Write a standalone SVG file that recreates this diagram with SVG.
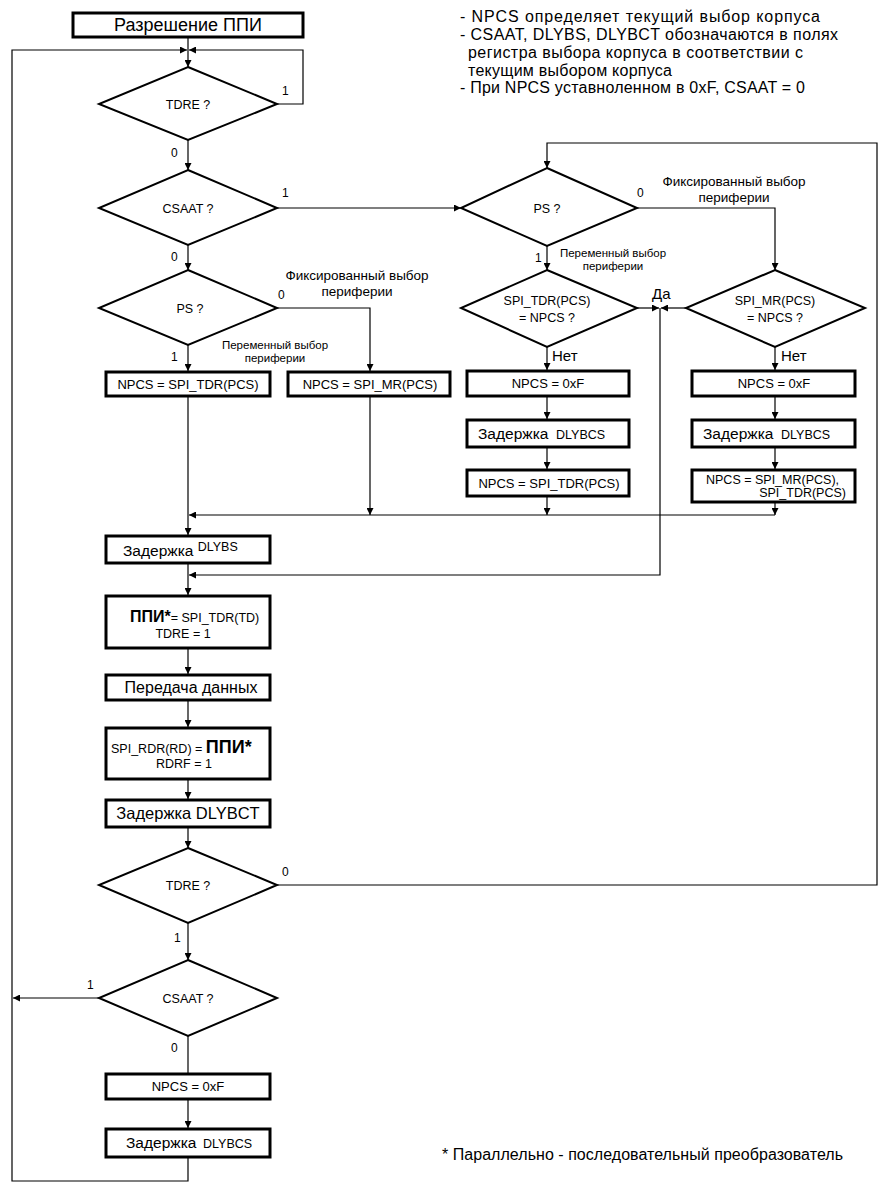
<svg xmlns="http://www.w3.org/2000/svg" width="891" height="1200" viewBox="0 0 891 1200">
<style>
text{font-family:"Liberation Sans",Arial,sans-serif;fill:#000}
.box{fill:#fff;stroke:#000;stroke-width:3}
.dia{fill:#fff;stroke:#000;stroke-width:2}
.c{fill:none;stroke:#000;stroke-width:1.2}
.t{font-size:13px;text-anchor:middle}
.d{font-size:12.5px;text-anchor:middle}
.l{font-size:12px}
.n{font-size:16px}
.s{font-size:11.5px;text-anchor:middle}
.f{font-size:13.5px;text-anchor:middle}
.z{font-size:15.5px}
.zs{font-size:12.5px}
</style>
<defs>
<marker id="a" viewBox="0 0 8 8" refX="8" refY="4" markerWidth="7" markerHeight="7" markerUnits="userSpaceOnUse" orient="auto"><path d="M0,0 L8,4 L0,8 z" fill="#000"/></marker>
</defs>
<rect width="891" height="1200" fill="#fff"/>
<g id="connectors">
<path class="c" d="M188,37 V67" marker-end="url(#a)"/>
<path class="c" d="M277,104 H303 V50 H189" marker-end="url(#a)"/>
<path class="c" d="M188,1157 V1181 H12 V50 H187" marker-end="url(#a)"/>
<path class="c" d="M188,140 V170" marker-end="url(#a)"/>
<path class="c" d="M277,208 H461" marker-end="url(#a)"/>
<path class="c" d="M188,245 V270" marker-end="url(#a)"/>
<path class="c" d="M277,308 H370 V371" marker-end="url(#a)"/>
<path class="c" d="M188,345 V371" marker-end="url(#a)"/>
<path class="c" d="M188,396 V535" marker-end="url(#a)"/>
<path class="c" d="M370,396 V515" marker-end="url(#a)"/>
<path class="c" d="M775,515 H189" marker-end="url(#a)"/>
<path class="c" d="M547,496 V515" marker-end="url(#a)"/>
<path class="c" d="M775,502 V515" marker-end="url(#a)"/>
<path class="c" d="M188,563 V595" marker-end="url(#a)"/>
<path class="c" d="M660,308 V575 H189" marker-end="url(#a)"/>
<path class="c" d="M188,648 V674" marker-end="url(#a)"/>
<path class="c" d="M188,700 V727" marker-end="url(#a)"/>
<path class="c" d="M188,779 V799" marker-end="url(#a)"/>
<path class="c" d="M188,827 V848" marker-end="url(#a)"/>
<path class="c" d="M277,885 H877 V143 H547 V168" marker-end="url(#a)"/>
<path class="c" d="M188,923 V960" marker-end="url(#a)"/>
<path class="c" d="M99,998 H13" marker-end="url(#a)"/>
<path class="c" d="M188,1036 V1073"/>
<path class="c" d="M188,1099 V1128" marker-end="url(#a)"/>
<path class="c" d="M547,246 V270" marker-end="url(#a)"/>
<path class="c" d="M637,208 H775 V270" marker-end="url(#a)"/>
<path class="c" d="M637,308 H659" marker-end="url(#a)"/>
<path class="c" d="M686,308 H661" marker-end="url(#a)"/>
<path class="c" d="M547,347 V370" marker-end="url(#a)"/>
<path class="c" d="M775,347 V370" marker-end="url(#a)"/>
<path class="c" d="M547,396 V419" marker-end="url(#a)"/>
<path class="c" d="M775,396 V419" marker-end="url(#a)"/>
<path class="c" d="M547,447 V469" marker-end="url(#a)"/>
<path class="c" d="M775,447 V469" marker-end="url(#a)"/>
</g>
<g id="labels">
<text class="l" x="282" y="95">1</text>
<text class="l" x="171" y="157">0</text>
<text class="l" x="282" y="197">1</text>
<text class="l" x="171" y="261">0</text>
<text class="l" x="278" y="299">0</text>
<text class="l" x="171" y="361">1</text>
<text class="f" x="357" y="280">Фиксированный выбор</text>
<text class="f" x="357" y="296">периферии</text>
<text class="s" x="275" y="349">Переменный выбор</text>
<text class="s" x="275" y="362">периферии</text>
<text class="l" x="637" y="197">0</text>
<text class="f" x="734" y="186">Фиксированный выбор</text>
<text class="f" x="734" y="202">периферии</text>
<text class="l" x="535" y="262">1</text>
<text class="s" x="613" y="257">Переменный выбор</text>
<text class="s" x="613" y="270">периферии</text>
<text x="652" y="299" style="font-size:15px">Да</text>
<text x="552" y="361" style="font-size:15px">Нет</text>
<text x="781" y="361" style="font-size:15px">Нет</text>
<text class="l" x="282" y="876">0</text>
<text class="l" x="174" y="942">1</text>
<text class="l" x="87" y="989">1</text>
<text class="l" x="171" y="1052">0</text>
</g>
<g id="start"><rect class="box" x="73" y="13" width="230" height="24"/><text x="188" y="31" style="font-size:18px;text-anchor:middle">Разрешение ППИ</text></g>
<g id="tdre1"><polygon class="dia" points="188,67 277,104 188,140 99,104"/><text class="d" x="188" y="109">TDRE ?</text></g>
<g id="csaat1"><polygon class="dia" points="188,170 277,208 188,245 99,208"/><text class="d" x="188" y="213">CSAAT ?</text></g>
<g id="ps1"><polygon class="dia" points="188,270 277,308 188,345 99,308"/><text class="d" x="190" y="313">PS ?</text></g>
<g id="box-tdr"><rect class="box" x="106" y="372" width="164" height="24"/><text class="t" x="188" y="389">NPCS = SPI_TDR(PCS)</text></g>
<g id="box-mr"><rect class="box" x="288" y="372" width="162" height="24"/><text class="t" x="370" y="389">NPCS = SPI_MR(PCS)</text></g>
<g id="dlybs"><rect class="box" x="106" y="536" width="164" height="27"/><text x="123" y="556" class="z">Задержка <tspan class="zs" dy="-5">DLYBS</tspan></text></g>
<g id="ppi"><rect class="box" x="106" y="596" width="164" height="52"/><text x="130" y="622"><tspan style="font-size:16px;font-weight:bold">ППИ*</tspan><tspan style="font-size:12.5px">= SPI_TDR(TD)</tspan></text><text x="183" y="638" style="font-size:12.5px;text-anchor:middle">TDRE = 1</text></g>
<g id="transfer"><rect class="box" x="106" y="675" width="164" height="25"/><text x="191" y="693" style="font-size:16px;text-anchor:middle">Передача данных</text></g>
<g id="rdr"><rect class="box" x="106" y="728" width="164" height="51"/><text x="111" y="753"><tspan style="font-size:12.5px">SPI_RDR(RD) = </tspan><tspan style="font-size:18px;font-weight:bold">ППИ*</tspan></text><text x="184" y="768" style="font-size:12.5px;text-anchor:middle">RDRF = 1</text></g>
<g id="dlybct"><rect class="box" x="106" y="800" width="164" height="27"/><text x="188" y="819" style="font-size:16.5px;text-anchor:middle">Задержка DLYBCT</text></g>
<g id="tdre2"><polygon class="dia" points="188,848 277,885 188,923 99,885"/><text class="d" x="188" y="890">TDRE ?</text></g>
<g id="csaat2"><polygon class="dia" points="188,960 277,998 188,1036 99,998"/><text class="d" x="188" y="1003">CSAAT ?</text></g>
<g id="npcs-f3"><rect class="box" x="106" y="1074" width="164" height="25"/><text class="t" x="188" y="1091">NPCS = 0xF</text></g>
<g id="dlybcs3"><rect class="box" x="106" y="1129" width="164" height="28"/><text x="126" y="1148" class="z">Задержка</text><text x="203" y="1148" class="zs">DLYBCS</text></g>
<g id="ps2"><polygon class="dia" points="547,168 637,208 547,246 461,208"/><text class="d" x="547" y="213">PS ?</text></g>
<g id="tdr-eq"><polygon class="dia" points="547,270 637,308 547,347 461,308"/><text class="d" x="547" y="305">SPI_TDR(PCS)</text><text class="d" x="547" y="322">= NPCS ?</text></g>
<g id="mr-eq"><polygon class="dia" points="775,270 865,308 775,347 686,308"/><text class="d" x="775" y="305">SPI_MR(PCS)</text><text class="d" x="775" y="322">= NPCS ?</text></g>
<g id="npcs-f1"><rect class="box" x="467" y="371" width="162" height="25"/><text class="t" x="548" y="388">NPCS = 0xF</text></g>
<g id="npcs-f2"><rect class="box" x="692" y="371" width="163" height="25"/><text class="t" x="774" y="388">NPCS = 0xF</text></g>
<g id="dlybcs1"><rect class="box" x="467" y="420" width="162" height="27"/><text x="478" y="439" class="z">Задержка</text><text x="556" y="439" class="zs">DLYBCS</text></g>
<g id="dlybcs2"><rect class="box" x="692" y="420" width="163" height="27"/><text x="703" y="439" class="z">Задержка</text><text x="781" y="439" class="zs">DLYBCS</text></g>
<g id="npcs-tdr2"><rect class="box" x="467" y="470" width="162" height="26"/><text class="t" x="549" y="488">NPCS = SPI_TDR(PCS)</text></g>
<g id="npcs-mr2"><rect class="box" x="692" y="470" width="163" height="32"/><text x="706" y="484" style="font-size:12.5px">NPCS = SPI_MR(PCS),</text><text x="846" y="497" style="font-size:12.5px;text-anchor:end">SPI_TDR(PCS)</text></g>
<g id="notes">
<text class="n" x="460" y="22" textLength="360">- NPCS определяет текущий выбор корпуса</text>
<text class="n" x="460" y="40" textLength="378">- CSAAT, DLYBS, DLYBCT обозначаются в полях</text>
<text class="n" x="468" y="58" textLength="335">регистра выбора корпуса в соответствии с</text>
<text class="n" x="468" y="76" textLength="204">текущим выбором корпуса</text>
<text class="n" x="460" y="93" textLength="345">- При NPCS уставноленном в 0xF, CSAAT = 0</text>
<text class="n" x="442" y="1160" textLength="401">* Параллельно - последовательный преобразователь</text>
</g>
</svg>
